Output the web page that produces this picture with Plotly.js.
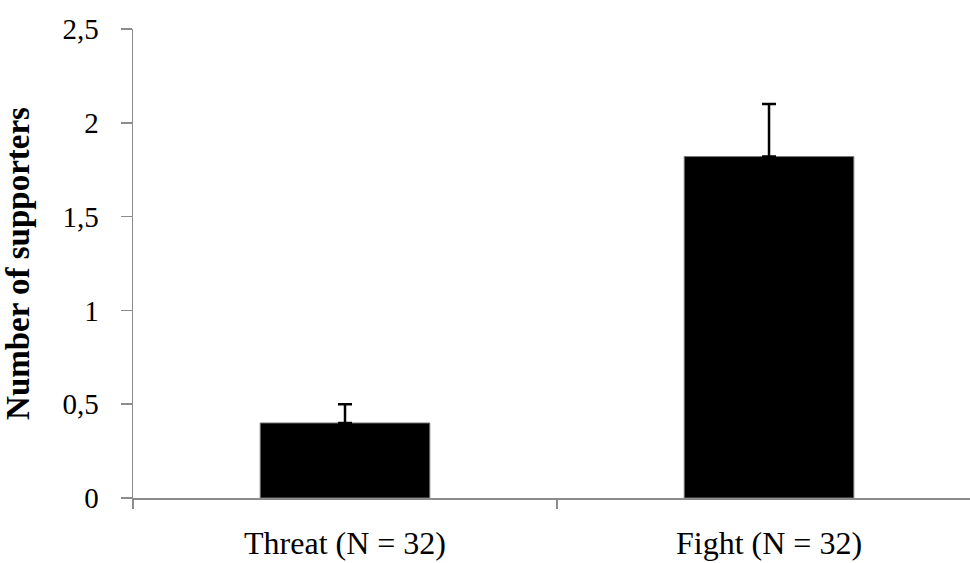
<!DOCTYPE html>
<html>
<head>
<meta charset="utf-8">
<script src="https://cdn.plot.ly/plotly-3.0.1.min.js"></script>
<style>html,body{margin:0;padding:0;background:#fff;}#chart{width:970px;height:563px;}</style>
</head>
<body>
<div id="chart"></div>
<script>
const categories = ['Threat (N = 32)', 'Fight (N = 32)'];
const supporters = [0.40, 1.82];
const errorUp = [0.10, 0.28];
const yTickValues = [0, 0.5, 1, 1.5, 2, 2.5];

const trace = {
  type: 'bar',
  x: categories,
  y: supporters,
  marker: {color: '#000000', line: {color: '#777777', width: 1}},
  width: 0.4,
  error_y: {type: 'data', array: errorUp, symmetric: false, arrayminus: [0, 0], color: '#000000', thickness: 2.5, width: 7},
  hoverinfo: 'none'
};

const layout = {
  width: 970,
  height: 563,
  margin: {l: 133, r: 0, t: 29, b: 65, pad: 0},
  paper_bgcolor: '#ffffff',
  plot_bgcolor: '#ffffff',
  separators: ',.',
  showlegend: false,
  font: {family: '"Liberation Serif", "Times New Roman", serif', color: '#000000', size: 28},
  xaxis: {
    type: 'category',
    range: [-0.5, 1.474],
    showline: true, linecolor: '#8c8c8c', linewidth: 1.5,
    ticks: 'outside', tickson: 'boundaries', ticklen: 9, tickcolor: '#8c8c8c', tickwidth: 1.5,
    tickfont: {size: 32},
    ticklabelstandoff: 16,
    showgrid: false, zeroline: false, automargin: false
  },
  yaxis: {
    range: [0, 2.5],
    tickvals: yTickValues,
    showline: true, linecolor: '#8c8c8c', linewidth: 1.5,
    ticks: 'outside', ticklen: 11, tickcolor: '#8c8c8c', tickwidth: 1.5,
    tickfont: {size: 29},
    ticklabelstandoff: 16,
    showgrid: false, zeroline: false, automargin: false,
    title: {text: '<b>Number of supporters</b>', font: {size: 33}, standoff: 30}
  }
};

Plotly.newPlot('chart', [trace], layout, {displayModeBar: false, staticPlot: true});
</script>
</body>
</html>
